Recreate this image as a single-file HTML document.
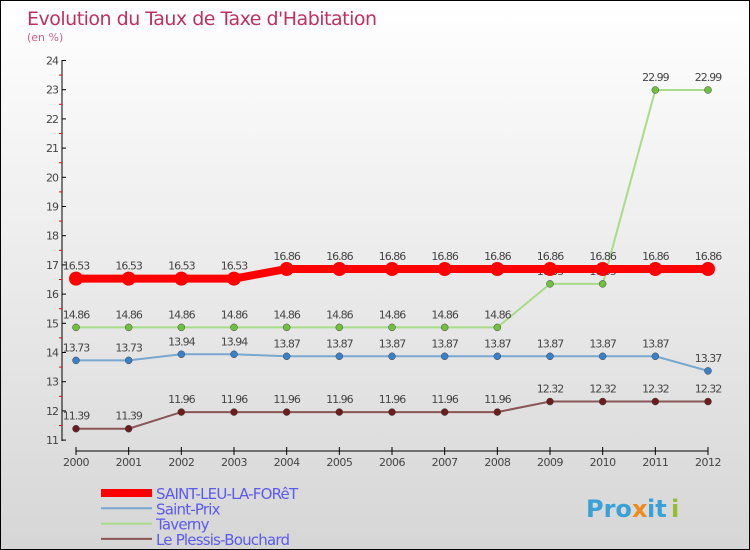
<!DOCTYPE html>
<html><head><meta charset="utf-8"><style>
body{margin:0}
#c{width:748px;height:548px;border:1px solid #000;background:linear-gradient(#fff,#d6d6d6);position:relative;overflow:hidden;font-family:"DejaVu Sans","Liberation Sans",sans-serif}
</style></head><body>
<div id="c">
<svg id="s" width="748" height="548" xmlns="http://www.w3.org/2000/svg">
<text x="26" y="24" font-size="19" fill="#c0305e" font-family="DejaVu Sans,sans-serif" letter-spacing="-0.5">Evolution du Taux de Taxe d'Habitation</text>
<text x="26" y="40" font-size="11" fill="#d0608a">(en %)</text>
<g id="g"></g>
<g font-size="24" font-weight="bold" font-family="DejaVu Sans,sans-serif">
<text x="585" y="516" fill="#3aa0d8">Pro</text><text x="631" y="516" fill="#f08a1a">x</text><text x="646" y="516" fill="#3aa0d8">it</text><text x="670" y="516" fill="#90c030">i</text>
</g>
</svg>
</div>
<script>
const years=["2000","2001","2002","2003","2004","2005","2006","2007","2008","2009","2010","2011","2012"];
const saintLeu=[16.53,16.53,16.53,16.53,16.86,16.86,16.86,16.86,16.86,16.86,16.86,16.86,16.86];
const saintPrix=[13.73,13.73,13.94,13.94,13.87,13.87,13.87,13.87,13.87,13.87,13.87,13.87,13.37];
const taverny=[14.86,14.86,14.86,14.86,14.86,14.86,14.86,14.86,14.86,16.35,16.35,22.99,22.99];
const plessis=[11.39,11.39,11.96,11.96,11.96,11.96,11.96,11.96,11.96,12.32,12.32,12.32,12.32];
const yTicks=[11,12,13,14,15,16,17,18,19,20,21,22,23,24];
const seriesNames=["SAINT-LEU-LA-FORêT","Saint-Prix","Taverny","Le Plessis-Bouchard"];
const NS="http://www.w3.org/2000/svg";
const g=document.getElementById('g');
const X=i=>75+i*(632/12);
const Y=v=>59.5+(24-v)*29.2;
function mk(t,a,p){const e=document.createElementNS(NS,t);for(const k in a)e.setAttribute(k,a[k]);(p||g).appendChild(e);return e;}
let e=mk('line',{x1:61,y1:59,x2:61,y2:440,stroke:'#000'});


e=mk('line',{x1:75,y1:450,x2:707,y2:450,stroke:'#000'});


yTicks.forEach((v,i)=>{
  mk('line',{x1:61,y1:Y(v),x2:65,y2:Y(v),stroke:'#000'});
  if(i<yTicks.length-1)mk('line',{x1:58,y1:Y(v+0.5),x2:61,y2:Y(v+0.5),stroke:'#f00'});
  const t=mk('text',{x:57,y:Y(v)+4,'font-size':11,fill:'#444','text-anchor':'end','letter-spacing':'-1'});
  t.textContent=v;
  
  
});
years.forEach((y,i)=>{
  mk('line',{x1:X(i),y1:446,x2:X(i),y2:454,stroke:'#000'});
  const t=mk('text',{x:X(i),y:465,'font-size':11,fill:'#444','text-anchor':'middle','letter-spacing':'-0.5'});
  t.textContent=y;
  
  
});
const series=[[plessis,'#6b1c1c','#8a5555',2,3.5],[saintPrix,'#3a80c8','#78a8d0',2,3.5],[taverny,'#70c040','#a8dc88',2,3.5],[saintLeu,'#f00','#f00',8,7]];
series.forEach(([d,dot,line,w,r],si)=>{
  const pl=mk('polyline',{points:d.map((v,i)=>X(i)+','+Y(v)).join(' '),fill:'none',stroke:line,'stroke-width':w});
  
  
  d.forEach((v,i)=>{
    const c=mk('circle',{cx:X(i),cy:Y(v),r:r,fill:dot,stroke:si<3?'#444':'none','stroke-width':0.5});
    
    
    const t=mk('text',{x:X(i),y:Y(v)-9,'font-size':11,fill:'#444','text-anchor':'middle','letter-spacing':'-1'});
    t.textContent=v.toFixed(2);
    
    
  });
});
const lc=[['#f00',8],['#78a8d0',2],['#a8dc88',2],['#8a5555',2]];
seriesNames.forEach((n,i)=>{
  const y=492+i*15.3;
  const l=mk('line',{x1:100,y1:y,x2:151,y2:y,stroke:lc[i][0],'stroke-width':lc[i][1]});
  
  
  const t=mk('text',{x:155,y:y+6,'font-size':15,fill:'#5a5aee','letter-spacing':'-0.8'});
  t.textContent=n;
  
  
});
</script>
</body></html>
